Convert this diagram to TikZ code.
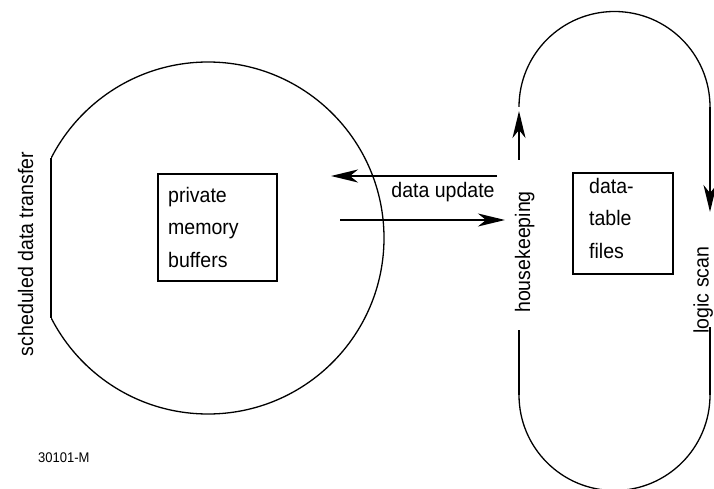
\documentclass[tikz,border=0pt]{standalone}
\usepackage{fontspec}
\setmainfont{Liberation Sans}[FakeStretch=0.93]
\usetikzlibrary{arrows.meta}
\begin{document}
\begin{tikzpicture}[x=1pt,y=-1pt,
  lbl/.style={font=\fontsize{21}{32.5}\selectfont, inner sep=0pt},
  txtblock/.style={font=\fontsize{21}{32.5}\selectfont, inner sep=0pt, align=left, anchor=north west},
  boxframe/.style={draw, line width=2pt, inner sep=0pt},
  thinline/.style={line width=1.3pt},
  thickline/.style={line width=2pt},
  arr/.style={line width=2pt, -{Stealth[length=27pt,width=13pt,inset=8pt]}}]
\useasboundingbox (0,0) rectangle (714,489);

% left circle with flat chord
\coordinate (cc) at (208,238);
\coordinate (ct) at (51,158.5);
\coordinate (cb) at (51,317.5);
\begin{scope}
  \clip (51,0) rectangle (420,489);
  \draw[thinline] (cc) circle[radius=176];
\end{scope}
\draw[thickline] (ct) -- (cb);

% private memory buffers box
\node[boxframe, minimum width=119pt, minimum height=107pt] (pmbbox) at (217.5,227.5) {};
\node[txtblock] (pmb) at (168,187) {private\\memory\\buffers};

% stadium loop
\coordinate (tc) at (614.5,107);
\coordinate (bc) at (614.5,395);
\coordinate (tl) at (519,107);
\coordinate (tr) at (710,107);
\coordinate (bl) at (519,395);
\coordinate (br) at (710,395);
\begin{scope}
  \clip (500,0) rectangle (720,107);
  \draw[thinline] (tc) circle[radius=95.5];
\end{scope}
\begin{scope}
  \clip (500,395) rectangle (720,500);
  \draw[thinline] (bc) circle[radius=95.5];
\end{scope}
\coordinate (hkfrom) at (519,160);
\coordinate (hkto) at (519,111);
\coordinate (hklow) at (519,330);
\coordinate (lsto) at (710,212);
\coordinate (lslow) at (710,327);
\draw[arr] (hkfrom) -- (hkto);
\draw[thickline] (hklow) -- (bl);
\draw[arr] (tr) -- (lsto);
\draw[thickline] (lslow) -- (br);

% data-table files box
\node[boxframe, minimum width=100pt, minimum height=101pt] (dtfbox) at (623,223.5) {};
\node[txtblock] (dtf) at (589,178) {data-\\table\\files};

% data update arrows
\coordinate (ua) at (497,176);
\coordinate (ub) at (331,176);
\coordinate (uc) at (340,220);
\coordinate (ud) at (505,220);
\draw[arr] (ua) -- (ub);
\draw[arr] (uc) -- (ud);
\node[lbl, anchor=base] (du) at (443,197) {data update};

% rotated labels
\node[lbl, rotate=90, anchor=base] (sdt) at (33,254) {scheduled data transfer};
\node[lbl, rotate=90, anchor=base] (hk) at (530,252) {housekeeping};
\node[lbl, rotate=90, anchor=base] (ls) at (708.5,290) {logic scan};

% figure number
\node[font=\fontsize{14}{16}\selectfont, inner sep=0pt, anchor=base west] (fig) at (38,462) {30101-M};
\end{tikzpicture}
\end{document}
